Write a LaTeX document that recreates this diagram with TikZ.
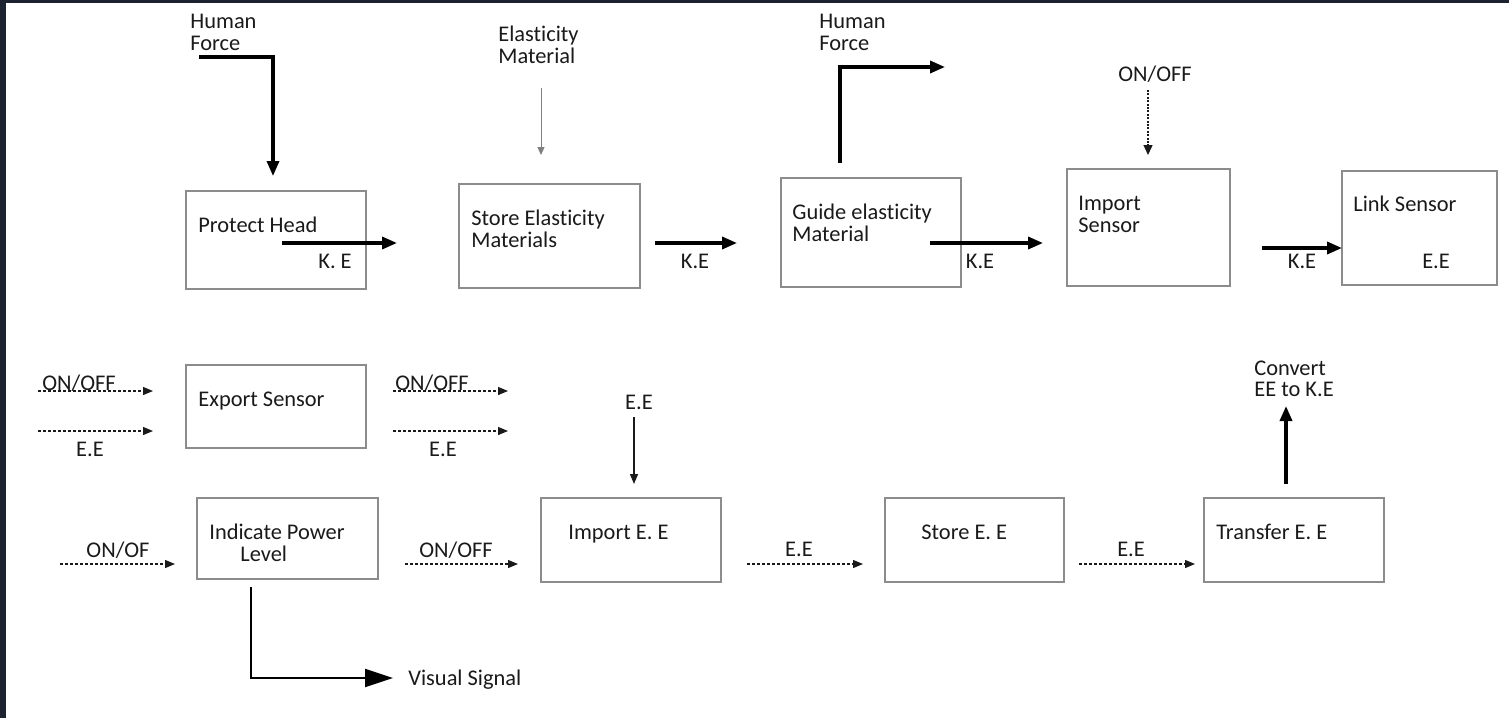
\documentclass[tikz,border=0pt]{standalone}
\usepackage{fontspec}
\setmainfont{Carlito}[Ligatures=NoCommon]
\usetikzlibrary{arrows.meta}
\definecolor{framec}{HTML}{1D2230}
\definecolor{boxgray}{HTML}{8C8C8C}
\definecolor{ink}{HTML}{1A1A1A}
\begin{document}
\begin{tikzpicture}[x=0.5pt,y=-0.5pt,
  box/.style={draw=boxgray,line width=0.75pt,anchor=north west,inner sep=0pt,outer sep=0pt},
  t1/.style={font=\fontsize{11.2}{10.8}\selectfont,text=ink,inner sep=0pt,anchor=west,text height=7.2pt,text depth=0pt},
  t1c/.style={t1,anchor=center},
  t2/.style={font=\fontsize{11.2}{10.8}\selectfont,text=ink,inner sep=0pt,anchor=west,align=left},
  bigarrow/.style={draw=black,line width=1.7pt,-{Triangle[length=7.5pt,width=6pt]}},
  thinarrow/.style={draw=gray,line width=0.5pt,-{Triangle[length=4pt,width=3.5pt]}},
  midarrow/.style={draw=ink,line width=0.7pt,-{Triangle[length=5pt,width=4pt]}},
  dotarrow/.style={draw=ink,line width=0.6pt,dash pattern=on 1.5pt off 1pt,-{Triangle[length=5pt,width=4pt]}},
  fdotarrow/.style={draw=ink,line width=0.7pt,dash pattern=on 1pt off 0.7pt,-{Triangle[length=5pt,width=4.5pt]}},
  sigarrow/.style={draw=black,line width=1pt,-{Triangle[length=14pt,width=9pt]}}
]
\useasboundingbox (0,0) rectangle (1509,718);
\fill[white] (0,0) rectangle (1509,718);
\fill[framec] (0,0) rectangle (6,718);
\fill[framec] (0,0) rectangle (1509,3);

% ---------- top row ----------
\node[t2] (hf1) at (190,32.5) {Human\\Force};
\node[t2] (em) at (498,45) {Elasticity\\Material};
\node[t2] (hf2) at (819,32.5) {Human\\Force};
\node[t1c] (onoffA) at (1155,74) {ON/OFF};

\node[box,minimum width=90pt,minimum height=49pt] (ph) at (186,191) {};
\node[t1] (phT) at (198,225) {Protect Head};
\node[t1c] (ke1) at (335,261) {K. E};

\node[box,minimum width=90.5pt,minimum height=52pt] (sem) at (459,184) {};
\node[t2] (semT) at (471,229) {Store Elasticity\\Materials};
\node[t1c] (ke2) at (695,261) {K.E};

\node[box,minimum width=90pt,minimum height=54.5pt] (gem) at (781,178) {};
\node[t2] (gemT) at (792,222.5) {Guide elasticity\\Material};
\node[t1c] (ke3) at (980,261) {K.E};

\node[box,minimum width=81.5pt,minimum height=58.5pt] (is) at (1067,169) {};
\node[t2] (isT) at (1078,214.5) {Import\\Sensor};
\node[t1c] (ke4) at (1302,261) {K.E};

\node[box,minimum width=77.5pt,minimum height=57pt] (ls) at (1342,171) {};
\node[t1] (lsT) at (1353,204) {Link Sensor};
\node[t1c] (lsE) at (1436,261) {E.E};

\coordinate (hf1s) at (199,57);
\coordinate (hf1c) at (273,57);
\coordinate (hf1e) at (273,176);
\draw[bigarrow,line width=1.6pt] (hf1s) -- (hf1c) -- (hf1e);

\coordinate (a2s) at (282,243);
\coordinate (a2e) at (397,243);
\draw[bigarrow] (a2s) -- (a2e);

\coordinate (a3s) at (541,88);
\coordinate (a3e) at (541,155);
\draw[thinarrow] (a3s) -- (a3e);

\coordinate (a4s) at (655,243);
\coordinate (a4e) at (737,243);
\draw[bigarrow] (a4s) -- (a4e);

\coordinate (a5s) at (840,163);
\coordinate (a5c) at (840,67);
\coordinate (a5e) at (945,67);
\draw[bigarrow] (a5s) -- (a5c) -- (a5e);

\coordinate (a6s) at (930,243);
\coordinate (a6e) at (1043,243);
\draw[bigarrow] (a6s) -- (a6e);

\coordinate (a7s) at (1148,90);
\coordinate (a7e) at (1148,155);
\draw[fdotarrow] (a7s) -- (a7e);

\coordinate (a8s) at (1262,248);
\coordinate (a8e) at (ls.west |- a8s);
\draw[bigarrow] (a8s) -- (a8e);

% ---------- bottom section ----------
\node[t1] (ooB) at (42,383) {ON/OFF};
\node[t1c] (eeB) at (90,449) {E.E};
\node[box,minimum width=90pt,minimum height=41.5pt] (es) at (186,365) {};
\node[t1] (esT) at (198,399) {Export Sensor};
\node[t1] (ooC) at (395,383) {ON/OFF};
\node[t1c] (eeC) at (443,449) {E.E};

\coordinate (b1s) at (38,391);  \coordinate (b1e) at (153,391);
\coordinate (b2s) at (38,431);  \coordinate (b2e) at (153,431);
\coordinate (b3s) at (393,391); \coordinate (b3e) at (508,391);
\coordinate (b4s) at (393,431); \coordinate (b4e) at (508,431);
\draw[dotarrow] (b1s) -- (b1e);
\draw[dotarrow] (b2s) -- (b2e);
\draw[dotarrow] (b3s) -- (b3e);
\draw[dotarrow] (b4s) -- (b4e);

\node[t1c] (eeD) at (639,402) {E.E};
\coordinate (b5s) at (634,417);
\coordinate (b5e) at (634,484);
\draw[midarrow] (b5s) -- (b5e);

\node[t1c] (ooD) at (118,550) {ON/OF};
\node[box,minimum width=90.5pt,minimum height=40.5pt] (ipl) at (197,498) {};
\node[t2] (iplT) at (209,543) {Indicate Power\\\hspace*{15.5pt}Level};
\node[t1] (ooE) at (419,550) {ON/OFF};

\node[box,minimum width=90pt,minimum height=42pt] (iee) at (541,498) {};
\node[t1] (ieeT) at (568,532) {Import E. E};
\node[t1c] (eeE) at (799,549) {E.E};

\node[box,minimum width=89.5pt,minimum height=42pt] (see) at (885,498) {};
\node[t1] (seeT) at (921,532) {Store E. E};
\node[t1c] (eeF) at (1131,549) {E.E};

\node[box,minimum width=90pt,minimum height=42pt] (tee) at (1204,498) {};
\node[t1] (teeT) at (1216,532) {Transfer E. E};

\node[t2] (conv) at (1254,379) {Convert\\EE to K.E};
\node[t1] (vs) at (408,678) {Visual Signal};

\coordinate (c1s) at (60,564);   \coordinate (c1e) at (175,564);
\coordinate (c2s) at (405,564);  \coordinate (c2e) at (518,564);
\coordinate (c3s) at (747,564);  \coordinate (c3e) at (863,564);
\coordinate (c4s) at (1079,564); \coordinate (c4e) at (1195,564);
\draw[dotarrow] (c1s) -- (c1e);
\draw[dotarrow] (c2s) -- (c2e);
\draw[dotarrow] (c3s) -- (c3e);
\draw[dotarrow] (c4s) -- (c4e);

\coordinate (d1s) at (1286,484);
\coordinate (d1e) at (1286,406);
\draw[bigarrow] (d1s) -- (d1e);

\coordinate (vss) at (251,587);
\coordinate (vsc) at (251,678);
\coordinate (vse) at (393,678);
\draw[sigarrow] (vss) -- (vsc) -- (vse);
\end{tikzpicture}
\end{document}
